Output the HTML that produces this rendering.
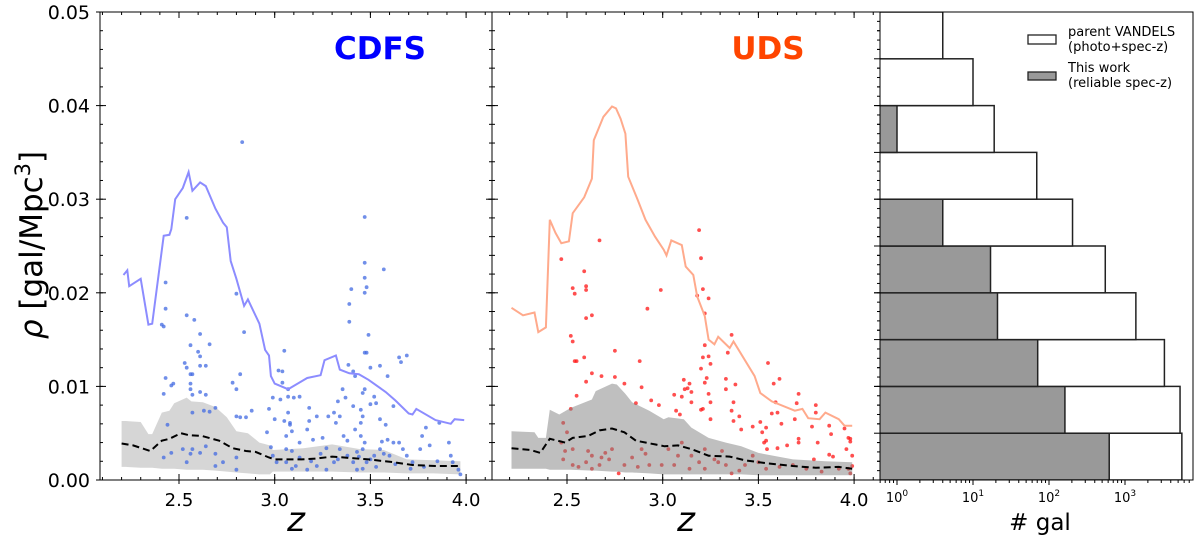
<!DOCTYPE html>
<html><head><meta charset="utf-8"><style>
body{margin:0;background:#fff;width:1200px;height:545px;overflow:hidden}
svg{font-family:"DejaVu Sans","Liberation Sans",sans-serif}
</style></head><body>
<svg id="fig" width="1200" height="545" viewBox="0 0 1200 545"></svg>
<script>
// ---------- data ----------
const cdfsLineZ=[2.21,2.23,2.24,2.30,2.34,2.36,2.42,2.45,2.46,2.48,2.52,2.55,2.57,2.61,2.64,2.69,2.73,2.75,2.77,2.80,2.84,2.86,2.92,2.95,2.97,2.98,3.00,3.07,3.17,3.24,3.26,3.32,3.34,3.39,3.44,3.49,3.58,3.63,3.70,3.72,3.74,3.84,3.92,3.94,3.99];
const cdfsLineRho=[0.0219,0.0224,0.0207,0.0215,0.0166,0.0167,0.0261,0.0262,0.0268,0.0300,0.0312,0.0329,0.0309,0.0318,0.0314,0.0290,0.0275,0.0270,0.0234,0.0215,0.0186,0.0193,0.0167,0.0139,0.0133,0.0111,0.0103,0.0097,0.0109,0.0112,0.0128,0.0133,0.0118,0.0114,0.0113,0.0107,0.0094,0.0085,0.0071,0.0070,0.0076,0.0064,0.0060,0.0065,0.0064];
const cdfsBandZ=[2.20,2.22,2.30,2.34,2.36,2.41,2.45,2.475,2.54,2.565,2.625,2.69,2.75,2.80,2.86,2.92,2.975,2.99,3.15,3.30,3.445,3.57,3.69,3.83,3.97];
const cdfsBandHi=[0.0063,0.0063,0.0062,0.0049,0.0049,0.0072,0.0074,0.0082,0.0088,0.0084,0.0083,0.0078,0.0067,0.0052,0.0050,0.0040,0.0037,0.0032,0.0034,0.0038,0.0033,0.0032,0.0022,0.0021,0.0020];
const cdfsBandLo=[0.0014,0.0014,0.0013,0.0013,0.0013,0.0012,0.0012,0.0012,0.0011,0.0011,0.0011,0.0010,0.0009,0.0008,0.0007,0.0006,0.0006,0.0009,0.0009,0.0009,0.0008,0.0008,0.0007,0.0007,0.0006];
const cdfsMedZ=[2.20,2.26,2.35,2.41,2.45,2.51,2.55,2.62,2.71,2.78,2.85,2.90,2.97,3.00,3.14,3.22,3.30,3.49,3.62,3.72,3.84,3.97];
const cdfsMed=[0.0039,0.0037,0.0031,0.0042,0.0044,0.0050,0.0048,0.0047,0.0042,0.0034,0.0031,0.0030,0.0024,0.0022,0.0022,0.0023,0.0025,0.0022,0.0019,0.0016,0.0015,0.0015];
const cdfsPtZ=[2.43,2.43,2.41,2.42,2.43,2.42,2.46,2.47,2.44,2.42,2.46,2.54,2.58,2.61,2.56,2.60,2.61,2.61,2.64,2.66,2.53,2.54,2.56,2.57,2.56,2.56,2.61,2.64,2.57,2.57,2.63,2.66,2.69,2.52,2.57,2.54,2.56,2.61,2.64,2.69,2.69,2.73,2.80,2.80,2.84,2.80,2.78,2.80,2.80,2.82,2.85,2.88,2.96,2.97,2.98,2.99,3.00,3.03,3.04,3.02,3.05,3.04,3.07,3.07,3.10,3.13,3.07,3.05,3.08,3.08,3.09,3.06,3.06,3.09,3.13,3.17,3.18,3.18,3.20,3.22,3.25,3.28,3.31,3.32,3.34,3.355,3.37,3.33,3.385,3.41,3.42,3.39,3.39,3.40,3.47,3.47,3.48,3.47,3.49,3.47,3.48,3.50,3.55,3.57,3.59,3.58,3.59,3.56,3.65,3.69,3.66,3.53,3.50,3.52,3.47,3.46,3.45,3.46,3.42,3.45,3.46,3.41,3.43,3.48,3.52,3.55,3.60,3.62,3.65,3.67,3.69,3.72,3.76,3.79,3.77,3.81,3.86,3.91,3.92,3.93,3.96,3.34,3.38,3.31,3.27,3.22,3.17,3.11,3.06,3.01,3.36,3.45,3.55,3.62,3.41,3.13,2.99,2.83,2.54,3.47,2.82,3.44,3.46,3.50,3.47,3.43,3.33,3.24,3.19,3.09,3.27,3.38,3.53,3.57,3.63,3.71,3.78,3.85,3.97];
const cdfsPtRho=[0.0211,0.0183,0.0166,0.0164,0.0109,0.0092,0.0101,0.0103,0.0059,0.0024,0.0029,0.0176,0.0171,0.0156,0.0144,0.0137,0.0132,0.0122,0.0122,0.0145,0.0125,0.0120,0.0113,0.0113,0.0103,0.0097,0.0094,0.0091,0.0091,0.0072,0.0074,0.0073,0.0077,0.0033,0.0033,0.0019,0.0028,0.0029,0.0036,0.0028,0.0015,0.0019,0.0024,0.0011,0.0158,0.0199,0.0104,0.0097,0.0068,0.0067,0.0067,0.0074,0.0051,0.0076,0.0035,0.0088,0.0065,0.0086,0.0116,0.0117,0.0138,0.0104,0.0097,0.0089,0.0088,0.0089,0.0072,0.0063,0.0061,0.0059,0.0052,0.0047,0.0033,0.0031,0.0024,0.0054,0.0077,0.0063,0.0043,0.0068,0.0045,0.0068,0.0072,0.0061,0.0068,0.0097,0.0088,0.0084,0.0123,0.0116,0.0111,0.0188,0.0169,0.0204,0.0232,0.0216,0.0206,0.0200,0.0155,0.0136,0.0136,0.0120,0.0122,0.0225,0.0111,0.0059,0.0043,0.0041,0.0131,0.0133,0.0126,0.0082,0.0081,0.0089,0.0097,0.0093,0.0075,0.0068,0.0054,0.0047,0.0033,0.0019,0.0011,0.0019,0.0026,0.0033,0.0026,0.0040,0.0040,0.0033,0.0026,0.0019,0.0033,0.0056,0.0047,0.0037,0.0061,0.0040,0.0026,0.0019,0.0011,0.0033,0.0026,0.0019,0.0011,0.0015,0.0011,0.0015,0.0019,0.0019,0.0047,0.0061,0.0065,0.0079,0.0079,0.0040,0.0026,0.0361,0.0280,0.0281,0.0113,0.0025,0.0012,0.0022,0.0040,0.0030,0.0022,0.0028,0.0020,0.0012,0.0034,0.0042,0.0014,0.0028,0.0017,0.0012,0.0014,0.0020,0.0006];

const udsLineZ=[2.21,2.27,2.33,2.35,2.39,2.41,2.44,2.47,2.51,2.53,2.59,2.63,2.64,2.69,2.735,2.756,2.78,2.805,2.82,2.87,2.91,2.96,3.005,3.02,3.045,3.10,3.12,3.16,3.18,3.22,3.24,3.27,3.29,3.35,3.37,3.48,3.51,3.57,3.69,3.73,3.76,3.82,3.85,3.92,3.95,3.99];
const udsLineRho=[0.0184,0.0176,0.0179,0.0158,0.0163,0.0278,0.0264,0.0253,0.0255,0.0285,0.0302,0.0322,0.0363,0.0388,0.0399,0.0397,0.0386,0.0370,0.0324,0.0299,0.0278,0.0260,0.0246,0.0240,0.0256,0.0251,0.0228,0.0219,0.0196,0.0175,0.0150,0.0145,0.0153,0.0141,0.0148,0.0111,0.0093,0.0084,0.0074,0.0076,0.0066,0.0065,0.0072,0.0065,0.0058,0.0058];
const udsBandZ=[2.21,2.33,2.35,2.39,2.41,2.46,2.52,2.63,2.65,2.735,2.76,2.805,2.84,2.93,3.005,3.03,3.11,3.15,3.24,3.33,3.41,3.50,3.68,3.85,3.99];
const udsBandHi=[0.0052,0.0051,0.0045,0.0045,0.0075,0.0070,0.0077,0.0086,0.0095,0.0103,0.0102,0.0092,0.0083,0.0074,0.0065,0.0067,0.0065,0.0056,0.0045,0.0040,0.0036,0.0029,0.0022,0.0020,0.0019];
const udsBandLo=[0.0012,0.0012,0.0012,0.0012,0.0011,0.0011,0.0011,0.0010,0.0010,0.0009,0.0009,0.0008,0.0008,0.0007,0.0006,0.0006,0.0006,0.0006,0.0006,0.0006,0.0006,0.0005,0.0005,0.0005,0.0005];
const udsMedZ=[2.21,2.31,2.36,2.41,2.49,2.53,2.61,2.67,2.735,2.80,2.86,2.96,3.01,3.08,3.15,3.24,3.35,3.43,3.54,3.68,3.80,3.92,3.99];
const udsMed=[0.0034,0.0032,0.0029,0.0044,0.0040,0.0045,0.0047,0.0053,0.0055,0.0051,0.0042,0.0038,0.0036,0.0037,0.0033,0.0026,0.0025,0.0021,0.0018,0.0015,0.0013,0.0014,0.0012];
const udsPtZ=[3.19,3.20,2.67,2.47,2.59,2.53,2.54,2.60,2.60,2.99,2.92,2.60,2.63,2.52,2.53,2.54,2.55,2.59,2.75,2.88,2.63,2.60,2.68,2.75,2.80,2.89,2.55,2.52,2.86,2.94,2.98,3.06,3.07,3.09,3.10,3.11,3.115,3.13,3.14,3.15,3.15,3.21,3.18,3.24,3.22,3.22,3.21,3.24,3.25,3.20,3.23,3.22,3.24,3.25,3.20,3.21,3.25,3.36,3.34,3.33,3.33,3.38,3.37,3.36,3.37,3.40,3.41,3.47,3.51,3.52,3.54,3.53,3.54,3.545,3.55,3.58,3.61,3.59,3.57,3.60,3.62,3.71,3.70,3.69,3.78,3.80,3.80,3.71,3.71,3.65,3.60,3.81,3.79,3.87,3.88,3.87,3.89,3.95,3.97,3.98,3.98,3.96,3.99,3.99,3.97,3.98,3.92,3.83,3.75,3.68,3.61,3.54,3.47,3.43,3.36,3.33,3.31,3.27,3.22,3.19,3.15,3.14,3.10,3.08,3.06,3.03,2.995,2.93,2.87,2.91,2.84,2.80,2.77,2.72,2.70,2.67,2.63,2.61,2.60,2.56,2.53,2.48,2.49,2.47,2.48,2.50,2.53,2.68,2.735,2.89,2.63,3.22,3.29,3.40,3.50];
const udsPtRho=[0.0267,0.0237,0.0256,0.0236,0.0223,0.0205,0.0199,0.0207,0.0203,0.0203,0.0183,0.0173,0.0176,0.0154,0.0148,0.0127,0.0127,0.0131,0.0138,0.0127,0.0114,0.0105,0.0111,0.0110,0.0103,0.0099,0.0090,0.0076,0.0082,0.0085,0.0080,0.0091,0.0074,0.0070,0.0089,0.0107,0.0097,0.0098,0.0103,0.0094,0.0083,0.0204,0.0197,0.0194,0.0178,0.0144,0.0131,0.0132,0.0124,0.0119,0.0109,0.0104,0.0092,0.0083,0.0075,0.0076,0.0065,0.0155,0.0136,0.0108,0.0097,0.0102,0.0083,0.0074,0.0063,0.0068,0.0054,0.0057,0.0062,0.0051,0.0056,0.0040,0.0042,0.0033,0.0125,0.0103,0.0108,0.0083,0.0071,0.0072,0.0060,0.0092,0.0082,0.0065,0.0057,0.0080,0.0072,0.0044,0.0040,0.0037,0.0034,0.0040,0.0022,0.0058,0.0049,0.0027,0.0025,0.0055,0.0045,0.0044,0.0041,0.0033,0.0026,0.0015,0.0012,0.0007,0.0012,0.0009,0.0012,0.0016,0.0014,0.0012,0.0026,0.0016,0.0007,0.0016,0.0031,0.0022,0.0033,0.0019,0.0026,0.0012,0.0040,0.0026,0.0016,0.0033,0.0016,0.0016,0.0014,0.0028,0.0024,0.0016,0.0007,0.0022,0.0029,0.0016,0.0026,0.0031,0.0019,0.0014,0.0016,0.0022,0.0031,0.0040,0.0061,0.0051,0.0033,0.0024,0.0033,0.0033,0.0012,0.0012,0.0019,0.0010,0.0019];

// histogram bins (bottom -> top, rho bins of width 0.005)
const histBinLo=[0,0.005,0.010,0.015,0.020,0.025,0.030,0.035,0.040,0.045];
const parentCounts=[5600,5300,3300,1390,550,204,69,19,10,4];
const thisWorkCounts=[620,162,71,21,17,4,0,1,0,0];
const zTicks=[2.5,3.0,3.5,4.0];
const zTickLabels=["2.5","3.0","3.5","4.0"];
const rhoTicks=[0,0.01,0.02,0.03,0.04,0.05];
const rhoTickLabels=["0.00","0.01","0.02","0.03","0.04","0.05"];
const logTicks=[0,1,2,3];

// ---------- helpers ----------
const NS="http://www.w3.org/2000/svg";
const svg=document.getElementById('fig');
function mk(tag,attrs,parent){const e=document.createElementNS(NS,tag);for(const k in attrs)e.setAttribute(k,attrs[k]);(parent||svg).appendChild(e);return e;}
const TOP=12,BOT=480;
const yR=r=>BOT-(BOT-TOP)*r/0.05;
function xZ(off){return z=>off+179+(z-2.5)*191.4;}
function poly(xs,ys,fx){return xs.map((z,i)=>fx(z).toFixed(1)+','+yR(ys[i]).toFixed(1)).join(' ');}

function panel(name,off,L,R,lineZ,lineRho,lineCol,bZ,bHi,bLo,bandFill,bandOp,mZ,mR,pZ,pR,ptCol,title,titleCol,bandOver){
  const fx=xZ(off);
  const g=mk('g',{},svg);
  
  
  const clip=mk('clipPath',{id:'c'+name},g);mk('rect',{x:L,y:TOP,width:R-L,height:BOT-TOP},clip);
  const pg=mk('g',{'clip-path':'url(#c'+name+')'},g);
  const bandPts=poly(bZ,bHi,fx)+' '+poly(bZ.slice().reverse(),bLo.slice().reverse(),fx);
  function band(){const b=mk('polygon',{points:bandPts,fill:bandFill,'fill-opacity':bandOp},pg);
    
    }
  if(!bandOver)band();
  const pts=mk('g',{},pg);
  
  
  pZ.forEach((z,i)=>{const c=mk('circle',{cx:fx(z).toFixed(1),cy:yR(pR[i]).toFixed(1),r:1.9,fill:ptCol,'fill-opacity':0.75},pts);
    
    });
  if(bandOver)band();
  const ln=mk('polyline',{points:poly(lineZ,lineRho,fx),fill:'none',stroke:lineCol,'stroke-width':2},pg);
  
  
  const md=mk('polyline',{points:poly(mZ,mR,fx),fill:'none',stroke:'#000','stroke-width':2,'stroke-dasharray':'7,4'},pg);
  
  
  // frame
  mk('rect',{x:L,y:TOP,width:R-L,height:BOT-TOP,fill:'none',stroke:'#000','stroke-width':1},g);
  // x ticks
  for(let z=2.1;z<=4.15;z+=0.1){const x=fx(z);if(x<L||x>R)continue;
    mk('line',{x1:x,x2:x,y1:BOT,y2:BOT-3,stroke:'#000'},g);mk('line',{x1:x,x2:x,y1:TOP,y2:TOP+3,stroke:'#000'},g);}
  zTicks.forEach((z,i)=>{const x=fx(z);
    mk('line',{x1:x,x2:x,y1:BOT+4,y2:BOT-6,stroke:'#000'},g);mk('line',{x1:x,x2:x,y1:TOP,y2:TOP+6,stroke:'#000'},g);
    const t=mk('text',{x:x,y:BOT+26,'text-anchor':'middle','font-size':18},g);t.textContent=zTickLabels[i];
    
    });
  // y minor ticks
  for(let r=0;r<=0.0501;r+=0.002){const y=yR(r);
    mk('line',{x1:L,x2:L+3,y1:y,y2:y,stroke:'#000'},g);mk('line',{x1:R,x2:R-3,y1:y,y2:y,stroke:'#000'},g);}
  rhoTicks.forEach(r=>{const y=yR(r);mk('line',{x1:L-4,x2:L+6,y1:y,y2:y,stroke:'#000'},g);mk('line',{x1:R,x2:R-6,y1:y,y2:y,stroke:'#000'},g);});
  const xt=mk('text',{x:(L+R)/2,y:531,'text-anchor':'middle','font-size':34,'font-style':'italic'},g);xt.textContent='z';
  
  
  const tt=mk('text',{x:off+380,y:59,'text-anchor':'middle','font-size':31,'font-weight':'bold',fill:titleCol},g);tt.textContent=title;
  
  
}

panel('cdfs',0,100,492,cdfsLineZ,cdfsLineRho,'rgb(140,140,255)',cdfsBandZ,cdfsBandHi,cdfsBandLo,'#999',0.4,cdfsMedZ,cdfsMed,cdfsPtZ,cdfsPtRho,'rgb(65,105,225)','CDFS','#0000ff',false);
panel('uds',388,492,880,udsLineZ,udsLineRho,'rgb(255,170,140)',udsBandZ,udsBandHi,udsBandLo,'#808080',0.5,udsMedZ,udsMed,udsPtZ,udsPtRho,'rgb(255,20,20)','UDS','#ff4500',true);

// y tick labels and title (left panel)
rhoTicks.forEach((r,i)=>{const t=mk('text',{x:90,y:yR(r)+7,'text-anchor':'end','font-size':19});t.textContent=rhoTickLabels[i];
  
  });
const yt=mk('text',{x:0,y:0,transform:'translate(42,245) rotate(-90)','text-anchor':'middle','font-size':31});
yt.innerHTML='<tspan font-style="italic">ρ</tspan> [gal/Mpc<tspan dy="-12" font-size="21">3</tspan><tspan dy="12">]</tspan>';



// histogram panel
const HL=880,HR=1193;
const xL=v=>897+76*Math.log10(v);
const hg=mk('g',{});


const hc=mk('clipPath',{id:'ch'},hg);mk('rect',{x:HL,y:TOP,width:HR-HL,height:BOT-TOP},hc);
const hb=mk('g',{'clip-path':'url(#ch)'},hg);
histBinLo.forEach((lo,i)=>{const y1=yR(lo+0.005),y0=yR(lo);
  const w=mk('rect',{x:HL-5,y:y1,width:xL(parentCounts[i])-HL+5,height:y0-y1,fill:'#fff',stroke:'#222','stroke-width':1.5},hb);
  
  
  if(thisWorkCounts[i]>0){const gr=mk('rect',{x:HL-5,y:y1,width:xL(thisWorkCounts[i])-HL+5,height:y0-y1,fill:'#999',stroke:'#222','stroke-width':1.5},hb);
    
    }
});
mk('rect',{x:HL,y:TOP,width:HR-HL,height:BOT-TOP,fill:'none',stroke:'#000'},hg);
for(let r=0;r<=0.0501;r+=0.001){const y=yR(r);const maj=Math.abs(r/0.005-Math.round(r/0.005))<1e-6;
  mk('line',{x1:maj?HL-6:HL-3,x2:HL,y1:y,y2:y,stroke:'#000'},hg);}
for(let d=-1;d<4;d++)for(let m=1;m<10;m++){const x=xL(m*Math.pow(10,d));if(x<HL||x>HR)continue;
  mk('line',{x1:x,x2:x,y1:BOT,y2:BOT+(m===1?5:3),stroke:'#000'},hg);}
logTicks.forEach(p=>{const t=mk('text',{x:xL(Math.pow(10,p)),y:BOT+22,'text-anchor':'middle','font-size':13},hg);
  t.innerHTML='10<tspan dy="-6" font-size="9">'+p+'</tspan>';
  
  });
const hx=mk('text',{x:1040,y:530,'text-anchor':'middle','font-size':23},hg);hx.textContent='# gal';


// legend
const lg=mk('g',{},hg);


mk('rect',{x:1028,y:35,width:28,height:9,fill:'#fff',stroke:'#222','stroke-width':1.3},lg);
mk('rect',{x:1028,y:72,width:28,height:8,fill:'#999',stroke:'#222','stroke-width':1.3},lg);
[['parent VANDELS',36],['(photo+spec-z)',51],['This work',72],['(reliable spec-z)',87]].forEach(a=>{
  const t=mk('text',{x:1068,y:a[1],'font-size':13},lg);t.textContent=a[0];
  
  });
</script>
</body></html>
